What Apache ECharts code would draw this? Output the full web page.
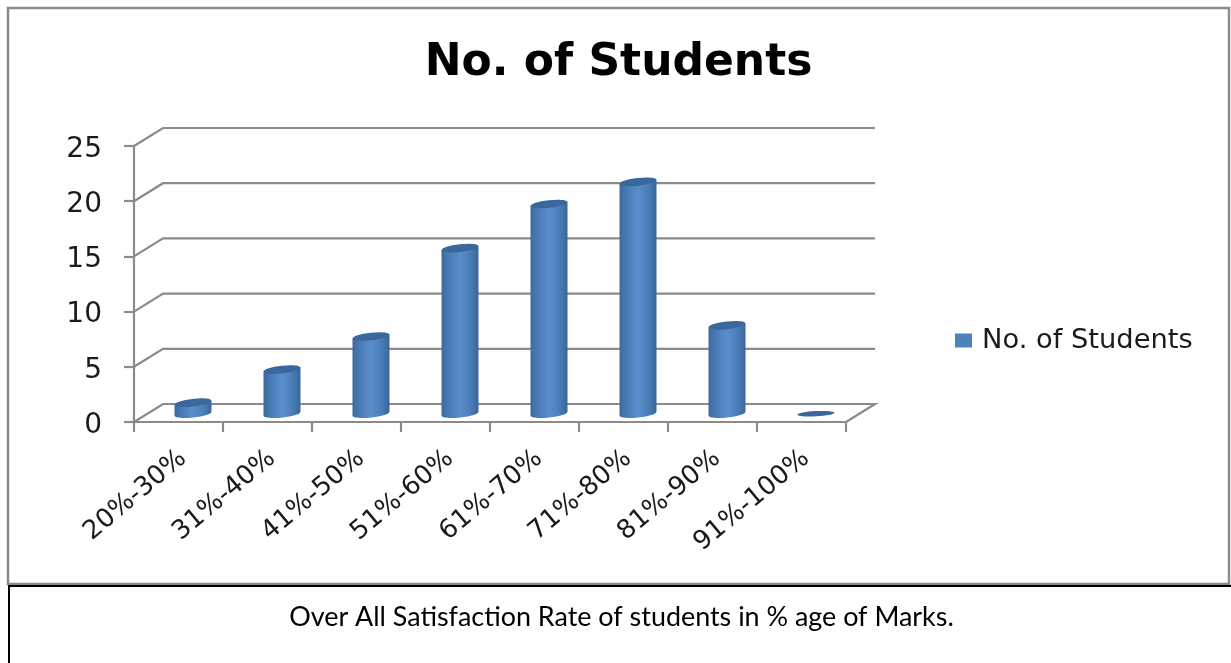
<!DOCTYPE html>
<html><head><meta charset="utf-8">
<style>html,body{margin:0;padding:0;background:#fff}#c{width:1231px;height:663px}</style>
<script src="https://cdn.jsdelivr.net/npm/echarts@6/dist/echarts.min.js"></script>
</head><body><div id="c"></div>
<script>
const categories = ['20%-30%','31%-40%','41%-50%','51%-60%','61%-70%','71%-80%','81%-90%','91%-100%'];
const students = [1,4,7,15,19,21,8,0];
const wallTicks = [0,5,10,15,20,25];
const seriesName = 'No. of Students';
const chartTitle = 'No. of Students';
const caption = 'Over All Satisfaction Rate of students in % age of Marks.';

const depthX = 29, depthY = -18;
const barDX = 14.5, barDY = -8.3;
const gray = '#8b8b8b';

const bodyFill = () => new echarts.graphic.LinearGradient(0,0,1,0,[
  {offset:0,color:'#3c6a9e'},{offset:0.22,color:'#4a7db8'},{offset:0.5,color:'#5a8dcc'},
  {offset:0.78,color:'#4a7db8'},{offset:1,color:'#3a6699'}]);

function renderWall(params, api){
  const v = api.value(1);
  const p = api.coord([0, v]);
  const band = api.size([1,0])[0];
  const x0 = p[0] - band/2, y0 = p[1];
  const n = categories.length;
  const pts = [[x0,y0],[x0+depthX,y0+depthY],[x0+depthX+band*n,y0+depthY]];
  if (v === 0) pts.push([x0+band*n,y0]);
  return {type:'polyline', silent:true, shape:{points:pts}, style:{fill:null, stroke:gray, lineWidth:2.2}};
}

function renderBar(params, api){
  const i = api.value(0), v = api.value(1);
  const top = api.coord([i, v]), base = api.coord([i, 0]);
  const cx = top[0] + barDX, rx = 18.5, dy = 2;
  const yT = top[1] + barDY, yB = base[1] + barDY;
  const tilt = 0.11;
  if (v === 0) {
    return {type:'ellipse', x:cx, y:yT, rotation:tilt/2,
      shape:{cx:0,cy:0,rx:rx,ry:2.6}, style:{fill:'#3b689c'}};
  }
  return {type:'group', children:[
    {type:'ellipse', x:cx, y:yB, rotation:tilt, shape:{cx:0,cy:0,rx:rx,ry:3.8}, style:{fill:bodyFill()}},
    {type:'polygon', shape:{points:[[cx-rx,yT+dy],[cx+rx,yT-dy],[cx+rx,yB-dy],[cx-rx,yB+dy]]}, style:{fill:bodyFill()}},
    {type:'ellipse', x:cx, y:yT, rotation:tilt, shape:{cx:0,cy:0,rx:rx,ry:3.8}, style:{fill:'#3b689c'}}
  ]};
}

const chart = echarts.init(document.getElementById('c'), null, {renderer:'canvas'});
chart.setOption({
  backgroundColor:'#fff',
  animation:false,
  title:[
    {text:chartTitle, left:613.5, top:37, textAlign:'center',
     textStyle:{fontFamily:'DejaVu Sans', fontWeight:'bold', fontSize:44, color:'#000'}},
    {text:caption, left:616.5, top:599, textAlign:'center',
     textStyle:{fontFamily:'Lato', fontWeight:'normal', fontSize:26.9, color:'#000'}}
  ],
  legend:{
    left:955, top:327, padding:0, data:[{name:seriesName, icon:'rect'}], itemWidth:17, itemHeight:14, itemGap:10,
    textStyle:{fontFamily:'DejaVu Sans', fontSize:27.3, color:'#1a1a1a', padding:[0,0,0,5]},
    selectedMode:false
  },
  grid:{left:134, right:385, top:146, bottom:241, containLabel:false},
  xAxis:{
    type:'category', data:categories, boundaryGap:true,
    axisLine:{show:true, lineStyle:{color:gray, width:2.2}},
    axisTick:{show:true, length:10, lineStyle:{color:gray, width:2.2}},
    axisLabel:{rotate:40, interval:0, margin:37, padding:[0,-6,0,0], fontFamily:'DejaVu Sans', fontSize:26, color:'#1a1a1a'},
    splitLine:{show:false}
  },
  yAxis:{
    type:'value', min:0, max:25, interval:5,
    axisLine:{show:true, lineStyle:{color:gray, width:2.2}},
    axisTick:{show:true, length:10, lineStyle:{color:gray, width:2.2}},
    axisLabel:{margin:32, verticalAlign:'top', lineHeight:7, fontFamily:'DejaVu Sans', fontSize:28, color:'#1a1a1a'},
    splitLine:{show:false}
  },
  series:[
    {type:'custom', name:'wall', silent:true, z:1, clip:false, renderItem:renderWall,
     encode:{x:0,y:1}, data:wallTicks.map(v=>[0,v])},
    {type:'custom', name:seriesName, z:3, clip:false, renderItem:renderBar,
     itemStyle:{color:'#4f81bd'}, encode:{x:0,y:1}, data:students.map((v,i)=>[i,v])}
  ],
  graphic:[
    {type:'rect', silent:true, z:-1, shape:{x:8,y:8,width:1221,height:576}, style:{fill:null,stroke:gray,lineWidth:2.5}},
    {type:'line', silent:true, shape:{x1:8,y1:586,x2:1231,y2:586}, style:{stroke:'#000',lineWidth:2}},
    {type:'line', silent:true, shape:{x1:9,y1:586,x2:9,y2:663}, style:{stroke:'#000',lineWidth:2}}
  ]
});
</script></body></html>
